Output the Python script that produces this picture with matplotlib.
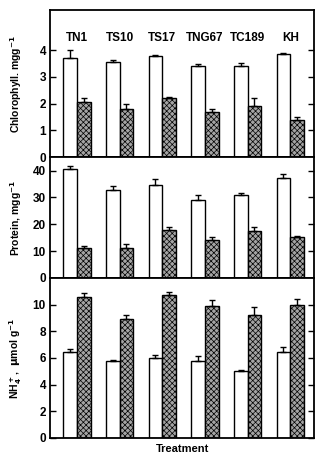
import numpy as np
import matplotlib
matplotlib.use('Agg')
import matplotlib.pyplot as plt

cultivars = ['TN1', 'TS10', 'TS17', 'TNG67', 'TC189', 'KH']

# chlorophyll, mg/g
chl_ctrl = [3.72, 3.56, 3.78, 3.40, 3.41, 3.87]
chl_ctrl_err = [0.30, 0.06, 0.04, 0.10, 0.11, 0.04]
chl_trt = [2.06, 1.79, 2.21, 1.69, 1.90, 1.38]
chl_trt_err = [0.16, 0.21, 0.04, 0.12, 0.31, 0.12]

# protein, mg/g
prot_ctrl = [40.7, 32.6, 34.6, 29.0, 30.8, 37.4]
prot_ctrl_err = [1.1, 1.6, 2.3, 2.0, 1.0, 1.2]
prot_trt = [11.2, 11.2, 18.0, 14.2, 17.3, 15.1]
prot_trt_err = [0.5, 1.3, 1.1, 1.1, 1.5, 0.4]

# NH4+, umol/g
nh4_ctrl = [6.45, 5.80, 6.00, 5.80, 5.00, 6.45]
nh4_ctrl_err = [0.23, 0.08, 0.22, 0.38, 0.08, 0.35]
nh4_trt = [10.58, 8.93, 10.70, 9.88, 9.23, 10.00]
nh4_trt_err = [0.25, 0.25, 0.25, 0.45, 0.55, 0.43]

plt.rcParams['font.family'] = ['Liberation Sans', 'DejaVu Sans']
plt.rcParams['font.weight'] = 'bold'
plt.rcParams['mathtext.default'] = 'bf'
plt.rcParams['hatch.color'] = '#3a3a3a'
plt.rcParams['hatch.linewidth'] = 0.5

fig = plt.figure(figsize=(3.17, 4.57), dpi=100)
left, width = 0.158, 0.833
ax1 = fig.add_axes([left, 0.656, width, 0.322])
ax2 = fig.add_axes([left, 0.392, width, 0.264])
ax3 = fig.add_axes([left, 0.0416, width, 0.3504])

x = np.arange(len(cultivars))
w = 0.32

panels = [
    (ax1, chl_ctrl, chl_ctrl_err, chl_trt, chl_trt_err, 5.5, [0, 1, 2, 3, 4],
     'Chlorophyll. mgg$^{-1}$'),
    (ax2, prot_ctrl, prot_ctrl_err, prot_trt, prot_trt_err, 45, [0, 10, 20, 30, 40],
     'Protein, mgg$^{-1}$'),
    (ax3, nh4_ctrl, nh4_ctrl_err, nh4_trt, nh4_trt_err, 12, [0, 2, 4, 6, 8, 10],
     'NH$_4^+$,  $\\mu$mol g$^{-1}$'),
]

for ax, c, ce, t, te, ymax, ticks, lab in panels:
    ax.bar(x - w / 2, c, w, color='white', edgecolor='black', linewidth=1.0,
           yerr=[np.zeros(len(c)), ce], error_kw=dict(ecolor='black', elinewidth=1.0, capsize=2.5, capthick=1.0))
    ax.bar(x + w / 2, t, w, color='#a4a4a4', edgecolor='black', linewidth=1.0, hatch='xxxxxx',
           yerr=[np.zeros(len(t)), te], error_kw=dict(ecolor='black', elinewidth=1.0, capsize=2.5, capthick=1.0))
    ax.set_xlim(-0.63, 5.56)
    ax.set_ylim(0, ymax)
    ax.set_yticks(ticks)
    ax.set_xticks([])
    ax.tick_params(axis='y', direction='in', right=True, length=4, width=1, labelsize=8.5, pad=3)
    for s in ax.spines.values():
        s.set_linewidth(1.3)
    ax.set_ylabel(lab, fontsize=7.5, fontweight='bold')
    ax.yaxis.set_label_coords(-0.10, 0.5)

for xi, name in zip(x, cultivars):
    ax1.text(xi, 4.45, name, ha='center', va='center', fontsize=8.5, fontweight='bold')

ax3.set_xlabel('Treatment', fontsize=8, fontweight='bold', labelpad=4)

fig.savefig('out.png', dpi=100)
